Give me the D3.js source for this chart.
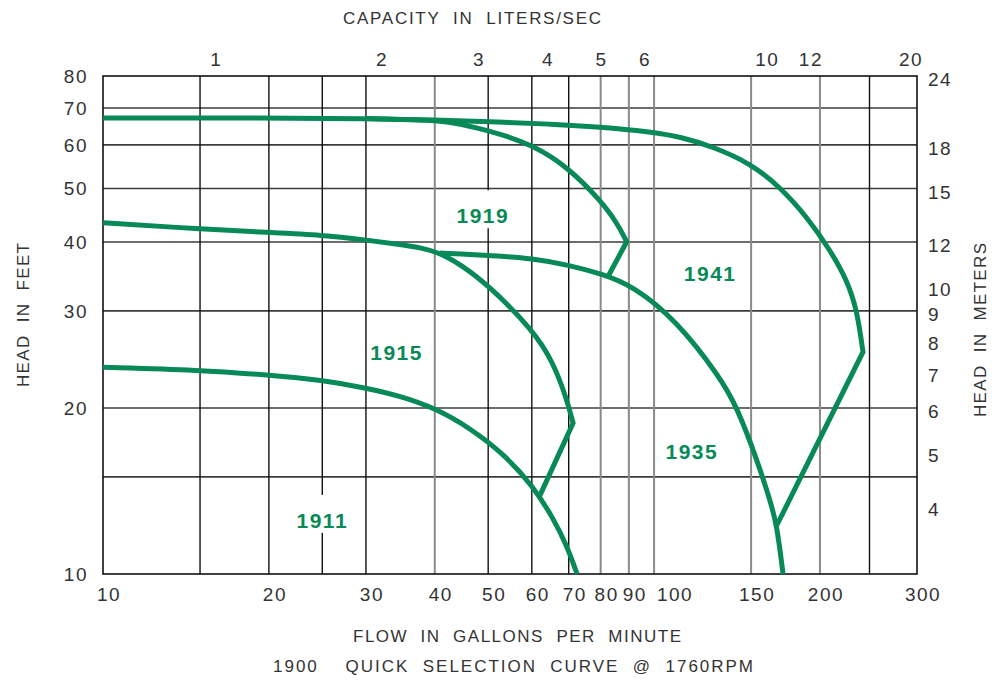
<!DOCTYPE html>
<html><head><meta charset="utf-8">
<script src="https://cdn.jsdelivr.net/npm/d3@7"></script>
<style>
html,body{margin:0;padding:0;background:#fff;}
svg{display:block;}
text{font-family:"Liberation Sans",Arial,sans-serif;}
</style></head><body>
<svg id="chart" width="992" height="681"></svg>
<script>
// Axes: flow in US gallons per minute, head in feet (both logarithmic)
const flowTicks = [10, 20, 30, 40, 50, 60, 70, 80, 90, 100, 150, 200, 300];
const headTicks = [10, 20, 30, 40, 50, 60, 70, 80];
const flowGridDark = [15, 20, 25, 30, 50, 60, 70, 246];
const flowGridLight = [40, 80, 90, 100, 150, 200];
const headGrid = [15, 20, 30, 40, 50, 60, 70];
const litersTicks = [1, 2, 3, 4, 5, 6, 10, 12, 20];
const meterTicks = [24, 18, 15, 12, 10, 9, 8, 7, 6, 5, 4];
const GPM_PER_LPS = 15.8503;
const FEET_PER_METER = 3.28084;

// Pump curves as [gpm, feet]; the last point is the run-out tip, and an edge
// runs from there straight to the next model's curve
const curve1911 = [[10, 23.7], [15, 23.44], [20, 22.95], [25, 22.48], [30, 21.74], [34.6, 21.03], [40, 20.0], [46.4, 18.39], [53.6, 16.44], [60.3, 14.44], [65.6, 12.63], [69.5, 11.24], [72.5, 10.0]];
const curve1915 = [[10, 43.36], [15, 42.23], [20, 41.62], [25, 41.19], [30, 40.34], [34.6, 39.59], [37.6, 39.1], [40.9, 38.21], [44.4, 36.49], [50, 33.43], [60.3, 27.7], [65.6, 24.23], [69.5, 20.69], [71.3, 18.78]];
const edge1915 = [62.1, 13.9];
const curve1919 = [[30, 67.0], [40, 66.52], [43.5, 65.75], [47.3, 64.52], [51.9, 63.06], [60.3, 59.98], [70.1, 54.47], [80.1, 47.46], [85.7, 43.3], [89.2, 40.05]];
const edge1919 = [82.6, 34.7];
const curve1935 = [[40.9, 38.21], [44.4, 38.05], [50.4, 37.81], [60.3, 37.34], [69.8, 36.34], [80.5, 35.0], [91.6, 33.29], [109.6, 28.88], [131.7, 22.76], [141.4, 20.08], [153.8, 16.1], [162.3, 13.62], [167.1, 12.27], [171.4, 10.0]];
const curve1941 = [[10, 67.14], [20, 67.14], [30, 67.0], [40, 66.58], [52.5, 66.02], [64.7, 65.47], [79.8, 64.66], [98.3, 63.4], [111.5, 62.09], [127.9, 59.55], [149.3, 55.62], [169.3, 50.32], [189.5, 44.39], [208.6, 38.69], [223.9, 34.13], [233.5, 30.11], [239.4, 25.27]];
const edge1941 = [167.1, 12.27];

const modelNames = ["1911", "1915", "1919", "1935", "1941"];
const modelLabelAt = [[25, 12.5], [34.1, 25.2], [48.9, 44.6], [117.1, 16.7], [126.4, 35.0]];

const GREEN = "#078a57";
const INK = "#333";

const svg = d3.select("#chart");
const x = d3.scaleLog().domain([10, 300]).range([103, 917]);
const y = d3.scaleLog().domain([10, 80]).range([574, 76]);
const [x0, x1] = x.range();
const [y0, y1] = y.range();

// Grid
const grid = svg.append("g");
grid.selectAll(".hg").data(headGrid).join("line")
  .attr("x1", x0).attr("x2", x1).attr("y1", d => y(d)).attr("y2", d => y(d))
  .attr("stroke", "#3c3c3c").attr("stroke-width", 1.6);
grid.selectAll(".vl").data(flowGridLight).join("line")
  .attr("y1", y0).attr("y2", y1).attr("x1", d => x(d)).attr("x2", d => x(d))
  .attr("stroke", "#8a8a8a").attr("stroke-width", 2);
grid.selectAll(".vd").data(flowGridDark).join("line")
  .attr("y1", y0).attr("y2", y1).attr("x1", d => x(d)).attr("x2", d => x(d))
  .attr("stroke", "#111").attr("stroke-width", 1.4);

// Clear the grid behind the model labels
const maskLayer = svg.append("g");

// Frame
svg.append("rect").attr("x", x0).attr("y", y1).attr("width", x1 - x0).attr("height", y0 - y1)
  .attr("fill", "none").attr("stroke", "#111").attr("stroke-width", 1.6);

// Curves: smooth B-spline through the readings, straight edge from the tip
const line = d3.line().x(d => x(d[0])).y(d => y(d[1])).curve(d3.curveBasis);
function curvePath(points, edge) {
  let d = line(points);
  if (edge) d += `L${x(edge[0])},${y(edge[1])}`;
  return d;
}
const curves = [[curve1911, null], [curve1915, edge1915], [curve1919, edge1919], [curve1935, null], [curve1941, edge1941]];
svg.append("g").selectAll("path").data(curves).join("path")
  .attr("d", d => curvePath(d[0], d[1]))
  .attr("fill", "none").attr("stroke", GREEN).attr("stroke-width", 5)
  .attr("stroke-linejoin", "miter").attr("stroke-linecap", "butt");

// Model labels
const labels = svg.append("g").selectAll("text").data(modelNames).join("text")
  .attr("x", (d, i) => x(modelLabelAt[i][0]))
  .attr("y", (d, i) => y(modelLabelAt[i][1]))
  .attr("dy", "0.35em").attr("text-anchor", "middle")
  .attr("fill", GREEN).attr("font-size", 21).attr("font-weight", "bold")
  .attr("letter-spacing", 1.5).text(d => d);
labels.each(function () {
  const b = this.getBBox();
  maskLayer.append("rect").attr("x", b.x).attr("y", b.y - 14)
    .attr("width", b.width).attr("height", b.height + 15).attr("fill", "#fff");
});

const tickFont = g => g.attr("font-size", 19).attr("fill", INK).attr("letter-spacing", 1.5);

// Left: head in feet
svg.append("g").call(tickFont).selectAll("text").data(headTicks).join("text")
  .attr("x", 88).attr("y", d => y(d)).attr("dy", "0.35em").attr("text-anchor", "end").text(d => d);

// Right: head in meters
svg.append("g").call(tickFont).selectAll("text").data(meterTicks).join("text")
  .attr("x", 928).attr("y", d => y(d * FEET_PER_METER)).attr("dy", "0.35em").attr("text-anchor", "start").text(d => d);

// Bottom: flow in gpm, nudged right so crowded labels do not overlap
const bottom = svg.append("g").call(tickFont).selectAll("text").data(flowTicks).join("text")
  .attr("x", d => x(d) + 6).attr("y", 601).attr("text-anchor", "middle").text(d => d);
let prevRight = -Infinity;
bottom.each(function () {
  const w = this.getComputedTextLength();
  let cx = +this.getAttribute("x");
  if (cx - w / 2 < prevRight) { cx = prevRight + 10 + w / 2; this.setAttribute("x", cx); }
  prevRight = cx + w / 2;
});

// Top: capacity in liters per second
svg.append("g").call(tickFont).selectAll("text").data(litersTicks).join("text")
  .attr("x", d => Math.min(x(d * GPM_PER_LPS) + 3, x1 - 6)).attr("y", 66)
  .attr("text-anchor", "middle").text(d => d);

// Titles
function title(txt, tx, ty, len, rot) {
  return svg.append("text").attr("transform", `translate(${tx},${ty})` + (rot ? " rotate(-90)" : ""))
    .attr("text-anchor", "middle").attr("font-size", 17).attr("fill", INK)
    .style("white-space", "pre").attr("textLength", len).attr("lengthAdjust", "spacing").text(txt);
}
title("CAPACITY  IN  LITERS/SEC", 472, 24, 258, false);
title("FLOW  IN  GALLONS  PER  MINUTE", 517, 642, 328, false);
title("1900    QUICK  SELECTION  CURVE  @  1760RPM", 513, 672, 480, false);
title("HEAD  IN  FEET", 29, 315, 144, true);
title("HEAD  IN  METERS", 986, 330, 174, true);
</script>
</body></html>
